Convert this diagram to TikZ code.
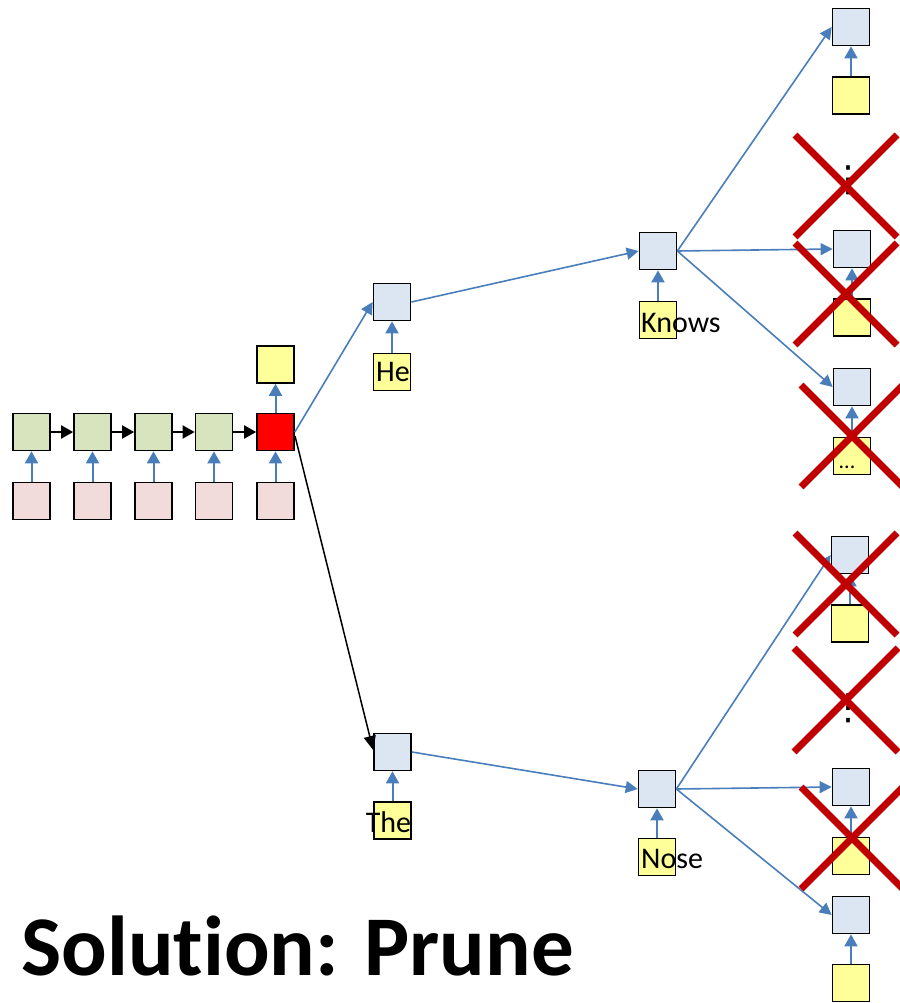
\documentclass[tikz,border=0pt]{standalone}
\usepackage{fontspec}
\setmainfont[Ligatures=NoCommon]{Carlito}
\newfontfamily\dejavu{DejaVu Sans}
\usetikzlibrary{arrows.meta}
\definecolor{encgreen}{HTML}{D7E4BD}
\definecolor{encpink}{HTML}{F2DCDB}
\definecolor{decblue}{HTML}{DCE6F2}
\definecolor{outyellow}{HTML}{FFFF99}
\definecolor{arrowblue}{HTML}{4A7EBB}
\definecolor{crossred}{HTML}{C00000}
\tikzset{
  cell/.style={draw=black, line width=1.7pt, minimum size=37pt, inner sep=0pt},
  gcell/.style={cell, fill=encgreen},
  pcell/.style={cell, fill=encpink},
  bcell/.style={cell, fill=decblue},
  ycell/.style={cell, fill=outyellow},
  rcell/.style={cell, fill=red},
  barrow/.style={draw=arrowblue, line width=2pt, -{Triangle[length=12pt,width=13pt]}},
  tarrow/.style={draw=arrowblue, line width=1.6pt, -{Triangle[length=12pt,width=12pt]}},
  karrow/.style={draw=black, line width=2pt, -{Triangle[length=12pt,width=13pt]}},
  klong/.style={draw=black, line width=1.5pt, -{Triangle[length=14pt,width=12pt]}},
  word/.style={font=\fontsize{30}{32}\selectfont, inner sep=0pt},
  crossline/.style={draw=crossred, line width=7pt},
  vdots/.style={font=\dejavu\fontsize{36}{36}\selectfont, inner sep=0pt}
}
\begin{document}
\begin{tikzpicture}[x=1pt,y=-1pt]
\useasboundingbox (0,0) rectangle (899,1003);
% encoder
\foreach \i/\x in {1/31.5,2/92.5,3/153.5,4/214} {
  \node[gcell] (g\i) at (\x,432) {};
  \node[pcell] (p\i) at (\x,501) {};
  \draw[barrow] (p\i) -- (g\i);
}
\node[rcell] (r) at (275.5,432) {};
\node[pcell] (p5) at (275.5,501) {};
\node[ycell] (ry) at (275.5,364.5) {};
\draw[barrow] (p5) -- (r);
\draw[barrow] (r) -- (ry);
\draw[karrow] (g1) -- (g2);
\draw[karrow] (g2) -- (g3);
\draw[karrow] (g3) -- (g4);
\draw[karrow] (g4) -- (r);
% level 1
\node[bcell] (he) at (392,302) {};
\node[ycell] (hey) at (392,372) {};
\node[word] at (393,372) {He};
\draw[barrow] (hey) -- (he);
\node[bcell] (the) at (392.5,752) {};
\node[ycell] (they) at (392.5,820.5) {};
\node[word, anchor=base] at (388.5,832) {The};
\draw[barrow] (they) -- (the);
\coordinate (rS) at (295,436);
\draw[tarrow] (r.east) -- (he.west);
\draw[klong] (rS) -- ([yshift=2pt]the.west);
% level 2
\node[bcell] (kn) at (658,251) {};
\node[ycell] (kny) at (658,320) {};
\node[word, anchor=base west] at (641,332) {Knows};
\draw[barrow] (kny) -- (kn);
\node[bcell] (no) at (657,789) {};
\node[ycell] (noy) at (657,857) {};
\node[word, anchor=base west] at (641,868) {Nose};
\draw[barrow] (noy) -- (no);
\draw[tarrow] (he.east) -- (kn.west);
\draw[tarrow] (the.east) -- (no.west);
% level 3 upper
\node[bcell] (a1) at (851,27) {};
\node[ycell] (a1y) at (851,95.5) {};
\draw[barrow] (a1y) -- (a1);
\node[vdots] (d1) at (848,180) {⋮};
\node[bcell] (a2) at (852,249) {};
\node[ycell] (a2y) at (852,317.5) {};
\draw[barrow] (a2y) -- (a2);
\node[bcell] (a3) at (852,387) {};
\node[ycell] (a3y) at (852,456) {};
\node[word, anchor=base, font=\fontsize{22}{22}\selectfont] at (847,468) {...};
\draw[barrow] (a3y) -- (a3);
\draw[tarrow] (kn.east) -- (a1.west);
\draw[tarrow] (kn.east) -- (a2.west);
\draw[tarrow] (kn.east) -- (a3.west);
% level 3 lower
\node[bcell] (b1) at (850,555) {};
\node[ycell] (b1y) at (850,623.5) {};
\draw[barrow] (b1y) -- (b1);
\node[vdots] (d2) at (848,708) {⋮};
\node[bcell] (b2) at (851,787) {};
\node[ycell] (b2y) at (851,856) {};
\draw[barrow] (b2y) -- (b2);
\node[bcell] (b3) at (851,915) {};
\node[ycell] (b3y) at (851,983) {};
\draw[barrow] (b3y) -- (b3);
\draw[tarrow] (no.east) -- (b1.west);
\draw[tarrow] (no.east) -- (b2.west);
\draw[tarrow] (no.east) -- (b3.west);
% crosses
\foreach \cx/\cy/\h in {846/186/51, 846/294/51, 852/436/51, 846/584/51, 846/700/52, 852/838/51} {
  \draw[crossline] (\cx-\h,\cy-\h) -- (\cx+\h,\cy+\h);
  \draw[crossline] (\cx+\h,\cy-\h) -- (\cx-\h,\cy+\h);
}
% title
\node[anchor=base west, inner sep=0pt, font=\bfseries\fontsize{85}{90}\selectfont] (title) at (21,975) {Solution: Prune};
\end{tikzpicture}
\end{document}
